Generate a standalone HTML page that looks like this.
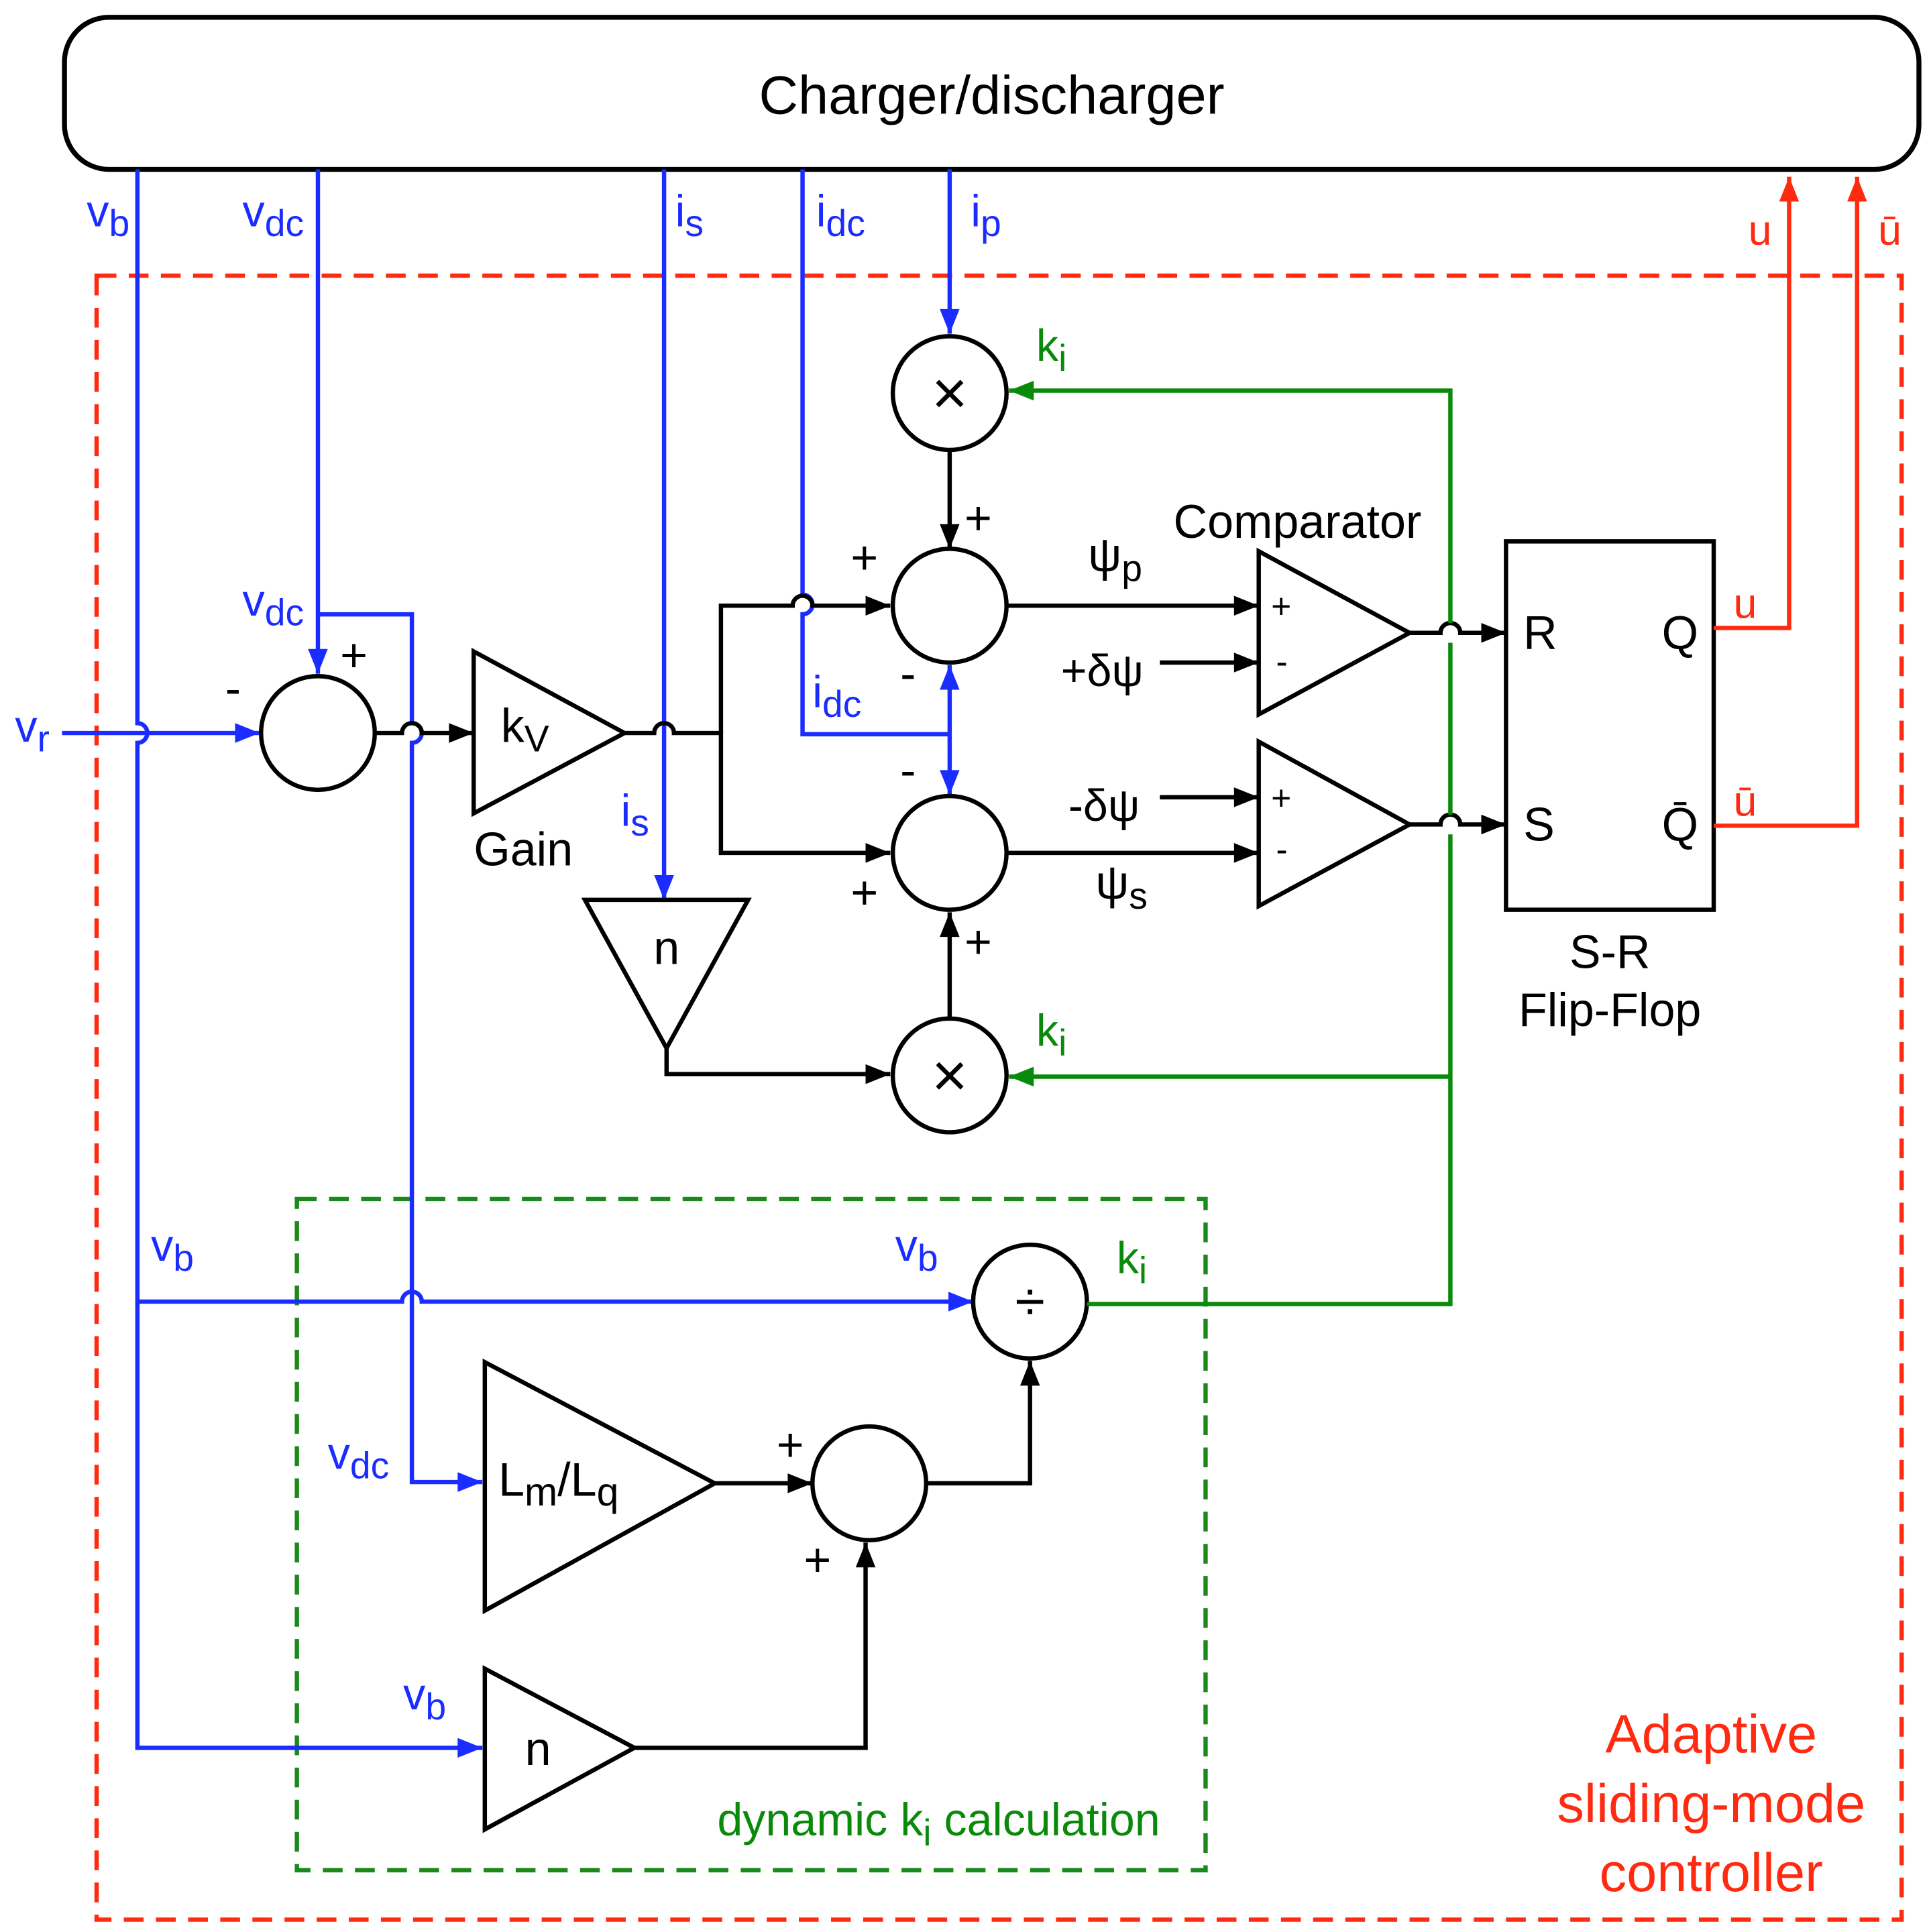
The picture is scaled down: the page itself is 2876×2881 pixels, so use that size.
<!DOCTYPE html>
<html><head><meta charset="utf-8"><style>
html,body{margin:0;padding:0;background:#fff}
svg{display:block}
text{font-family:"Liberation Sans",sans-serif}
</style></head><body>
<svg width="2876" height="2881" viewBox="0 0 1560 1563" xmlns="http://www.w3.org/2000/svg">
<defs>
<marker id="abl" viewBox="0 0 10 8" markerWidth="24" markerHeight="16" refX="10" refY="4" orient="auto" markerUnits="userSpaceOnUse"><path d="M0,0 L10,4 L0,8z" fill="#1a2cff"/></marker>
<marker id="ak" viewBox="0 0 10 8" markerWidth="24" markerHeight="16" refX="10" refY="4" orient="auto" markerUnits="userSpaceOnUse"><path d="M0,0 L10,4 L0,8z" fill="#000"/></marker>
<marker id="ag" viewBox="0 0 10 8" markerWidth="24" markerHeight="16" refX="10" refY="4" orient="auto" markerUnits="userSpaceOnUse"><path d="M0,0 L10,4 L0,8z" fill="#0a8a0a"/></marker>
<marker id="ar" viewBox="0 0 10 8" markerWidth="24" markerHeight="16" refX="10" refY="4" orient="auto" markerUnits="userSpaceOnUse"><path d="M0,0 L10,4 L0,8z" fill="#ff2a10"/></marker>
</defs>
<rect x="52" y="14" width="1500" height="123" rx="36" fill="#fff" stroke="#000" stroke-width="4"/>
<text x="802" y="92" font-size="44" text-anchor="middle">Charger/discharger</text>
<rect x="78" y="223" width="1460" height="1330" fill="none" stroke="#ff2a10" stroke-width="3.5" stroke-dasharray="16,10"/>
<rect x="240" y="970" width="735" height="543" fill="none" stroke="#1a8a1a" stroke-width="3.5" stroke-dasharray="16,10"/>

<g fill="none" stroke="#1a2cff" stroke-width="3.5">
<path d="M111,137 V585 A8,8 0 0 1 111,601 V1414 H390" marker-end="url(#abl)"/>
<path d="M111,1053 H325 A8,8 0 0 1 341,1053 H787" marker-end="url(#abl)"/>
<path d="M257,137 V545" marker-end="url(#abl)"/>
<path d="M257,497 H333 V585 A8,8 0 0 1 333,601 V1199 H390" marker-end="url(#abl)"/>
<path d="M537,137 V728" marker-end="url(#abl)"/>
<path d="M649,137 V481 A8,8 0 0 1 649,497 V594 H768"/>
<path d="M768,594 V538" marker-end="url(#abl)"/>
<path d="M768,594 V643" marker-end="url(#abl)"/>
<path d="M768,137 V270" marker-end="url(#abl)"/>
<path d="M50,593 H210" marker-end="url(#abl)"/>
</g>
<g fill="none" stroke="#000" stroke-width="3.5">
<circle cx="768" cy="318" r="46"/><circle cx="768" cy="490" r="46"/><circle cx="768" cy="690" r="46"/><circle cx="768" cy="870" r="46"/>
<circle cx="257" cy="593" r="46"/><circle cx="833" cy="1053" r="46"/><circle cx="703" cy="1200" r="46"/>
<path d="M383,527 L383,658 L505,593z"/>
<path d="M473,728 L605,728 L539,848z"/>
<path d="M1018,446 L1018,578 L1140,512z"/>
<path d="M1018,600 L1018,733 L1140,667z"/>
<path d="M392,1102 L392,1303 L578,1200z"/>
<path d="M392,1350 L392,1480 L513,1414z"/>
<rect x="1218" y="438" width="168" height="298"/>
<path d="M303,593 H325 A8,8 0 0 1 341,593 H383" marker-end="url(#ak)"/>
<path d="M505,593 H529 A8,8 0 0 1 545,593 H583 V690 H720" marker-end="url(#ak)"/>
<path d="M583,593 V490 H641 A8,8 0 0 1 657,490 H720" marker-end="url(#ak)"/>
<path d="M768,364 V444" marker-end="url(#ak)"/>
<path d="M814,490 H1018" marker-end="url(#ak)"/>
<path d="M814,690 H1018" marker-end="url(#ak)"/>
<path d="M938,536 H1018" marker-end="url(#ak)"/>
<path d="M938,645 H1018" marker-end="url(#ak)"/>
<path d="M1140,512 H1165 A8,8 0 0 1 1181,512 H1218" marker-end="url(#ak)"/>
<path d="M1140,667 H1165 A8,8 0 0 1 1181,667 H1218" marker-end="url(#ak)"/>
<path d="M539,848 V869 H720" marker-end="url(#ak)"/>
<path d="M768,824 V738" marker-end="url(#ak)"/>
<path d="M578,1200 H657" marker-end="url(#ak)"/>
<path d="M513,1414 H700 V1248" marker-end="url(#ak)"/>
<path d="M749,1200 H833 V1101" marker-end="url(#ak)"/>
</g>
<g fill="none" stroke="#0a8a0a" stroke-width="3.5">
<path d="M1173,504 V316 H816" marker-end="url(#ag)"/>
<path d="M1173,520 V659"/>
<path d="M1173,675 V1055 H879"/>
<path d="M1173,871 H816" marker-end="url(#ag)"/>
</g>
<g fill="none" stroke="#ff2a10" stroke-width="3.5">
<path d="M1386,508 H1447 V143" marker-end="url(#ar)"/>
<path d="M1386,668 H1502 V143" marker-end="url(#ar)"/>
</g>
<g font-size="38" fill="#000">
<text x="768" y="335" text-anchor="middle" font-size="50">×</text>
<text x="768" y="887" text-anchor="middle" font-size="50">×</text>
<text x="833" y="1068" text-anchor="middle" font-size="44">÷</text>
<text x="405" y="600">k<tspan font-size="30" dy="8">V</tspan></text>
<text x="383" y="700">Gain</text>
<text x="539" y="780" text-anchor="middle">n</text>
<text x="435" y="1428" text-anchor="middle">n</text>
<text x="403" y="1210">L<tspan font-size="32" dy="8">m</tspan><tspan dy="-8">/L</tspan><tspan font-size="32" dy="8">q</tspan></text>
<text x="949" y="435">Comparator</text>
<text x="1232" y="525">R</text><text x="1344" y="525">Q</text>
<text x="1232" y="680">S</text><text x="1344" y="680">Q̄</text>
<text x="1302" y="783" text-anchor="middle">S-R</text>
<text x="1302" y="830" text-anchor="middle">Flip-Flop</text>
<text x="780" y="432">+</text><text x="688" y="464">+</text><text x="728" y="558">-</text>
<text x="728" y="636">-</text><text x="688" y="735">+</text><text x="780" y="775">+</text>
<text x="275" y="543">+</text><text x="182" y="570">-</text>
<text x="628" y="1182">+</text><text x="650" y="1275">+</text>
<text x="1028" y="500" font-size="28">+</text><text x="1032" y="545" font-size="28">-</text>
<text x="1028" y="655" font-size="28">+</text><text x="1032" y="697" font-size="28">-</text>
<text x="880" y="462">ψ<tspan font-size="30" dy="8">p</tspan></text>
<text x="886" y="727">ψ<tspan font-size="30" dy="8">s</tspan></text>
<text x="858" y="555" font-size="36">+δψ</text>
<text x="864" y="664" font-size="36">-δψ</text>
</g>
<g font-size="36" fill="#1a2cff">
<text x="70" y="183">v<tspan font-size="30" dy="8">b</tspan></text>
<text x="196" y="183">v<tspan font-size="30" dy="8">dc</tspan></text>
<text x="546" y="183">i<tspan font-size="30" dy="8">s</tspan></text>
<text x="660" y="183">i<tspan font-size="30" dy="8">dc</tspan></text>
<text x="785" y="183">i<tspan font-size="30" dy="8">p</tspan></text>
<text x="196" y="498">v<tspan font-size="30" dy="8">dc</tspan></text>
<text x="12" y="600">v<tspan font-size="30" dy="8">r</tspan></text>
<text x="657" y="572">i<tspan font-size="30" dy="8">dc</tspan></text>
<text x="502" y="668">i<tspan font-size="30" dy="8">s</tspan></text>
<text x="122" y="1020">v<tspan font-size="30" dy="8">b</tspan></text>
<text x="724" y="1020">v<tspan font-size="30" dy="8">b</tspan></text>
<text x="265" y="1188">v<tspan font-size="30" dy="8">dc</tspan></text>
<text x="326" y="1383">v<tspan font-size="30" dy="8">b</tspan></text>
</g>
<g font-size="36" fill="#0a8a0a">
<text x="838" y="292">k<tspan font-size="30" dy="8">i</tspan></text>
<text x="838" y="846">k<tspan font-size="30" dy="8">i</tspan></text>
<text x="903" y="1030">k<tspan font-size="30" dy="8">i</tspan></text>
<text x="580" y="1485" font-size="37">dynamic k<tspan font-size="30" dy="8">i</tspan><tspan dy="-8"> calculation</tspan></text>
</g>
<g font-size="34" fill="#ff2a10">
<text x="1414" y="198">u</text><text x="1519" y="198">ū</text>
<text x="1402" y="500">u</text><text x="1402" y="660">ū</text>
<text x="1384" y="1418" text-anchor="middle" font-size="44">Adaptive</text>
<text x="1384" y="1474" text-anchor="middle" font-size="44">sliding-mode</text>
<text x="1384" y="1530" text-anchor="middle" font-size="44">controller</text>
</g>
</svg>
</body></html>
